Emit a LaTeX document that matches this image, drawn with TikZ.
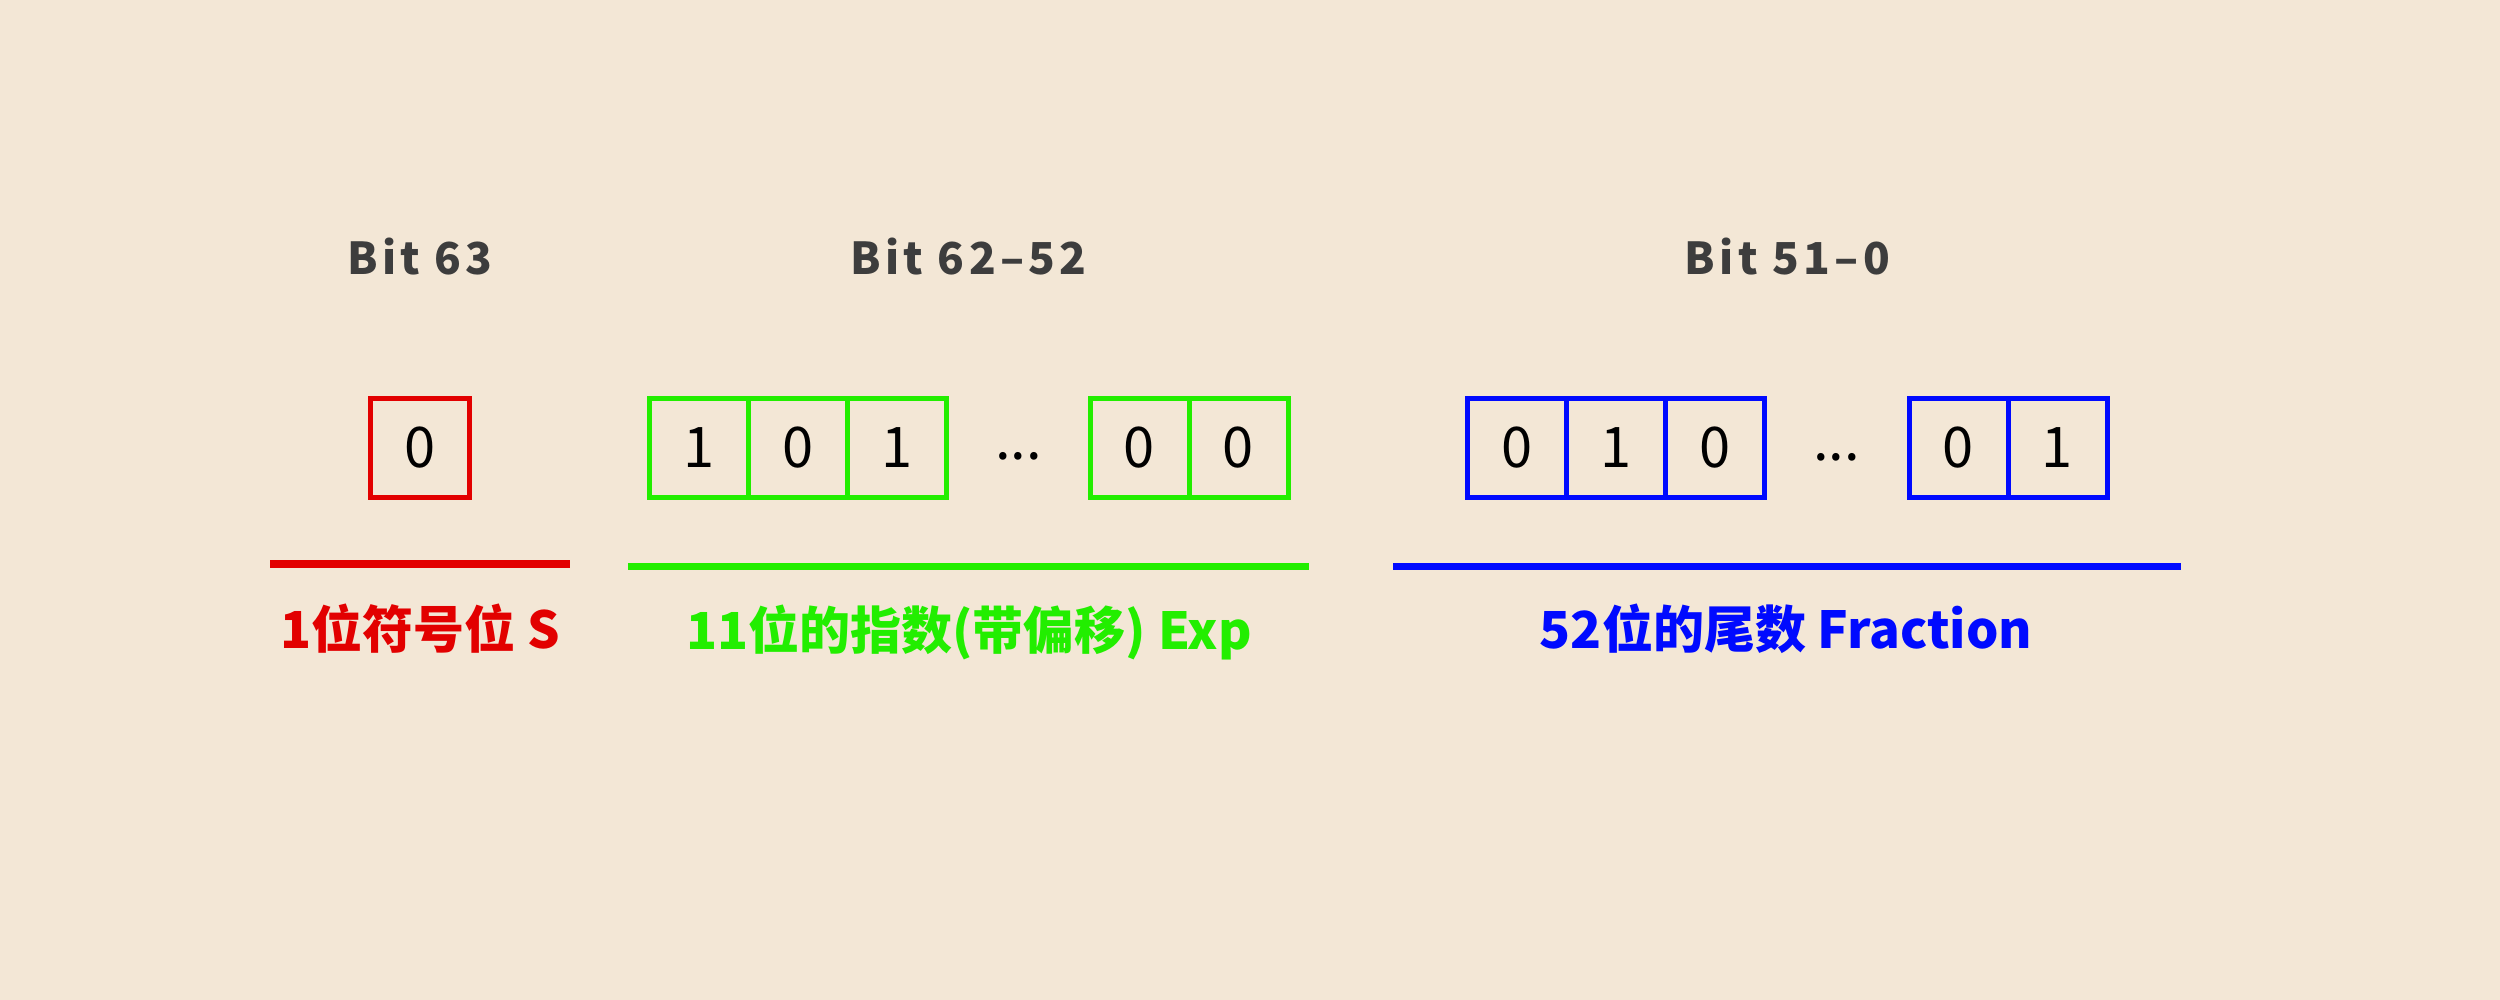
\documentclass[tikz,border=0pt]{standalone}
\usepackage{fontspec}
\setmainfont{Noto Sans CJK SC}
\newfontfamily\headfont{Noto Sans CJK SC}[LetterSpace=10]

\definecolor{paper}{RGB}{243,231,214}
\definecolor{signred}{RGB}{226,0,0}
\definecolor{expgreen}{RGB}{34,238,0}
\definecolor{fracblue}{RGB}{0,10,255}
\definecolor{headgray}{RGB}{61,61,61}

\tikzset{
  bitcell/.style={draw=#1, line width=5pt, minimum size=99pt, inner sep=0pt,
    outer sep=0pt, text=black, font=\fontsize{56}{60}\selectfont},
  bitdots/.style={inner sep=0pt, text=black, font=\fontsize{56}{60}\selectfont},
  head/.style={anchor=base, text=headgray, font=\headfont\bfseries\fontsize{44}{50}\selectfont},
  part/.style={anchor=base, text=#1, font=\bfseries\fontsize{51}{60}\selectfont},
}

\begin{document}
\begin{tikzpicture}[x=1pt,y=-1pt]
    \fill[paper] (0,0) rectangle (2500,1000);
    \useasboundingbox (0,0) rectangle (2500,1000);

    % headers
    \node[head] (hs) at (420,275) {Bit 63};
    \node[head] (he) at (968.5,275) {Bit 62–52};
    \node[head] (hf) at (1787.5,275) {Bit 51–0};

    % sign
    \node[bitcell=signred] (s1) at (420,447.5) {0};

    % exponent
    \foreach \b [count=\i] in {1,0,1}
        \node[bitcell=expgreen] (e\i) at ({600+99*\i},447.5) {\b};
    \node[bitdots] (ed) at (1018.5,456) {...};
    \foreach \b [count=\i from 4] in {0,0}
        \node[bitcell=expgreen] (e\i) at ({743.5+99*\i},447.5) {\b};

    % fraction
    \foreach \b [count=\i] in {0,1,0}
        \node[bitcell=fracblue] (f\i) at ({1418+99*\i},447.5) {\b};
    \node[bitdots] (fd) at (1836.5,457) {...};
    \foreach \b [count=\i from 4] in {0,1}
        \node[bitcell=fracblue] (f\i) at ({1562.5+99*\i},447.5) {\b};

    % underlines
    \coordinate (sl) at (270,564);
    \coordinate (sr) at (570,564);
    \coordinate (el) at (628,566.5);
    \coordinate (er) at (1309,566.5);
    \coordinate (fl) at (1393,566.5);
    \coordinate (fr) at (2181,566.5);
    \draw[signred, line width=8pt] (sl) -- (sr);
    \draw[expgreen, line width=6.5pt] (el) -- (er);
    \draw[fracblue, line width=7pt] (fl) -- (fr);

    \node[part=signred] (ls) at (420,648) {1位符号位 S};
    \node[part=expgreen] (le) at (969,649) {11位的指数(带偏移) Exp};
    \node[part=fracblue] (lf) at (1786,648) {52位的尾数 Fraction};
\end{tikzpicture}
\end{document}
